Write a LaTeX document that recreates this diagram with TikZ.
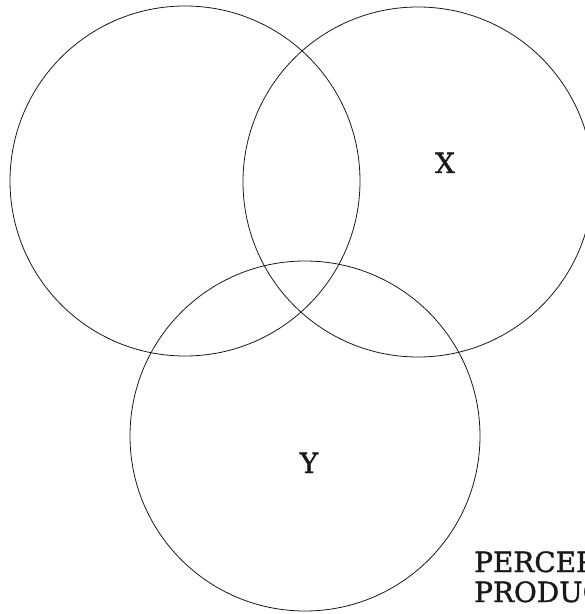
\documentclass[tikz,border=0pt]{standalone}
\usepackage{fontspec}
\setmainfont[FakeBold=1.3]{DejaVu Serif}

\begin{document}
\begin{tikzpicture}[
    x=1bp, y=-1bp,
    set/.style={circle, draw, minimum size=350bp, inner sep=0pt, line width=0.8pt, draw=black!90},
    tag/.style={font=\fontsize{28}{30}\selectfont, inner sep=0pt, anchor=base, text=black!90}
]
\useasboundingbox (0,0) rectangle (585,614);
\clip (0,0) rectangle (585,614);

\node[set] (left) at (185,181) {};
\node[set] (right) at (418,182) {};
\node[set] (bottom) at (305,436) {};

\node[tag] (x) at (445,173) {X};
\node[tag] (y) at (309,473) {Y};

\node[tag, anchor=base west] (perc) at (474,572) {PERCEP};
\node[tag, anchor=base west] (prod) at (474,602) {PRODUC};
\end{tikzpicture}
\end{document}
